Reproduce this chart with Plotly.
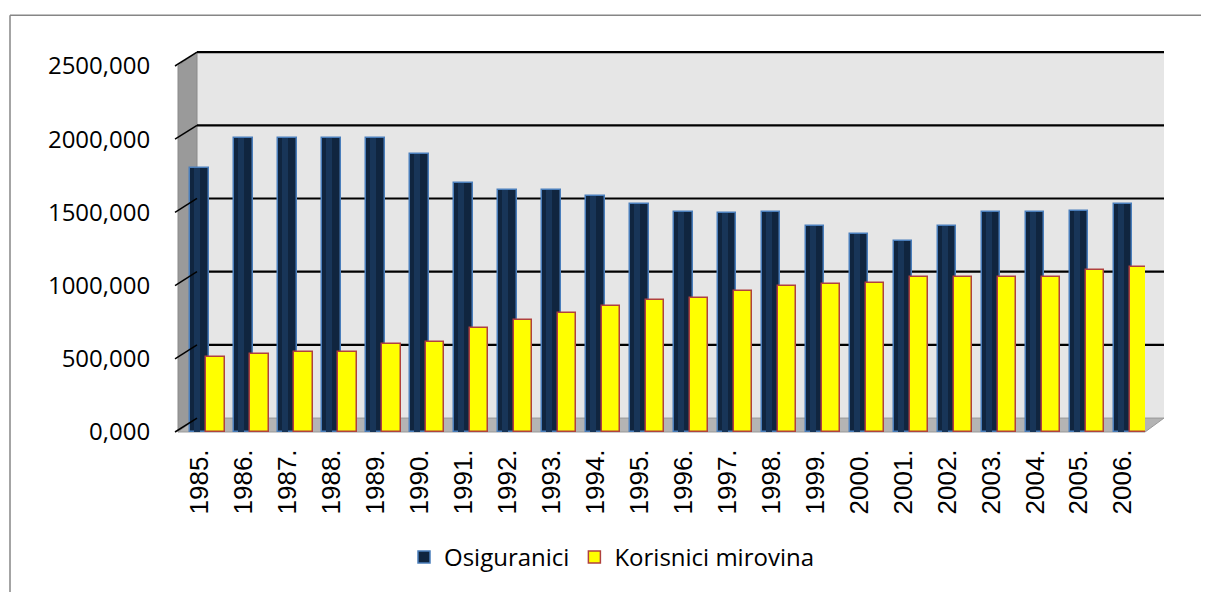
import plotly.graph_objects as go

years = ["1985.", "1986.", "1987.", "1988.", "1989.", "1990.", "1991.", "1992.",
         "1993.", "1994.", "1995.", "1996.", "1997.", "1998.", "1999.", "2000.",
         "2001.", "2002.", "2003.", "2004.", "2005.", "2006."]
osiguranici = [1800, 2010, 2010, 2010, 2010, 1900, 1700, 1655, 1655, 1610, 1555, 1505,
               1495, 1505, 1405, 1355, 1305, 1405, 1500, 1500, 1510, 1560]
korisnici = [510, 535, 545, 548, 600, 612, 712, 765, 812, 862, 900, 915,
             960, 995, 1012, 1015, 1060, 1062, 1060, 1062, 1110, 1130]
y_ticks = [0, 500, 1000, 1500, 2000, 2500]
y_labels = ["0,000", "500,000", "1000,000", "1500,000", "2000,000", "2500,000"]
y_max = 2500

# page draws the figure at an 8px offset, so work in page pixels and subtract
OFF = 8
W, H = 1209 - OFF, 592 - OFF
L, R, T, B = 178 - OFF, 1145 - OFF, 66 - OFF, 434 - OFF
pw, ph = R - L, B - T
DX, DY = 19, 14  # depth offset of back wall


def px(x):
    return (x - L) / pw


def py(y):
    return (B - y) / ph


def yv(v):
    return B - v * ph / y_max


fig = go.Figure()
fig.add_trace(go.Bar(
    x=years, y=osiguranici, name="Osiguranici",
    offset=-0.21, width=0.42,
    marker=dict(color="#10253f", line=dict(color="#4a7ebb", width=1.5)),
))
# soft highlight to suggest the cylinder shape
fig.add_trace(go.Bar(
    x=years, y=osiguranici, showlegend=False, hoverinfo="skip",
    offset=-0.12, width=0.14,
    marker=dict(color="#183558", line=dict(width=0)),
))
fig.add_trace(go.Bar(
    x=years, y=korisnici, name="Korisnici mirovina",
    offset=0.15, width=0.42,
    marker=dict(color="#ffff00", line=dict(color="#b0413e", width=1.5)),
))

shapes = []
# back wall
shapes.append(dict(type="rect", xref="paper", yref="paper", layer="below",
                   x0=px(L + DX), x1=px(R + DX), y0=py(B - DY), y1=py(T - DY),
                   fillcolor="#e6e6e6", line=dict(width=0)))
# left side wall
shapes.append(dict(type="path", xref="paper", yref="paper", layer="below",
                   path=f"M {px(L)} {py(T)} L {px(L + DX)} {py(T - DY)} "
                        f"L {px(L + DX)} {py(B - DY)} L {px(L)} {py(B)} Z",
                   fillcolor="#9a9a9a", line=dict(color="#8a8a8a", width=1)))
# floor
shapes.append(dict(type="path", xref="paper", yref="paper", layer="below",
                   path=f"M {px(L)} {py(B)} L {px(L + DX)} {py(B - DY)} "
                        f"L {px(R + DX)} {py(B - DY)} L {px(R)} {py(B)} Z",
                   fillcolor="#b4b4b4", line=dict(color="#999999", width=1)))
# gridlines on back wall and diagonal ticks
for v in y_ticks[1:]:
    shapes.append(dict(type="line", xref="paper", yref="paper", layer="below",
                       x0=px(L + DX), x1=px(R + DX),
                       y0=py(yv(v) - DY), y1=py(yv(v) - DY),
                       line=dict(color="black", width=2.2)))
for v in y_ticks:
    shapes.append(dict(type="line", xref="paper", yref="paper",
                       x0=px(L - 3), x1=px(L + DX),
                       y0=py(yv(v)), y1=py(yv(v) - DY),
                       line=dict(color="black", width=1.5)))
# outer chart border (top and left)
shapes.append(dict(type="line", xref="paper", yref="paper",
                   x0=px(10 - OFF), x1=px(W + 5), y0=py(15 - OFF), y1=py(15 - OFF),
                   line=dict(color="#868686", width=1.5)))
shapes.append(dict(type="line", xref="paper", yref="paper",
                   x0=px(10 - OFF), x1=px(10 - OFF), y0=py(15 - OFF), y1=py(H + 5),
                   line=dict(color="#868686", width=1.5)))

fig.update_layout(
    width=W, height=H,
    margin=dict(l=L, r=W - R, t=T, b=H - B),
    paper_bgcolor="white", plot_bgcolor="rgba(0,0,0,0)",
    barmode="overlay", bargap=0,
    font=dict(family="Open Sans", size=20, color="black"),
    shapes=shapes,
    showlegend=True,
    legend=dict(orientation="h", x=px(612 - OFF), y=py(560 - OFF), xanchor="center",
                yanchor="middle", font=dict(size=24), itemwidth=30,
                traceorder="normal"),
    xaxis=dict(type="category", range=[-0.49, 21.5], tickangle=-90,
               showgrid=False, zeroline=False, showline=False,
               ticks="outside", ticklen=6, tickcolor="rgba(0,0,0,0)",
               tickfont=dict(family="Liberation Sans", size=26)),
    yaxis=dict(range=[0, y_max], tickvals=y_ticks, ticktext=y_labels,
               showgrid=False, zeroline=False, showline=False,
               ticks="outside", ticklen=22, tickcolor="rgba(0,0,0,0)",
               tickfont=dict(family="Open Sans", size=24)),
)

fig.write_html("out.html")
